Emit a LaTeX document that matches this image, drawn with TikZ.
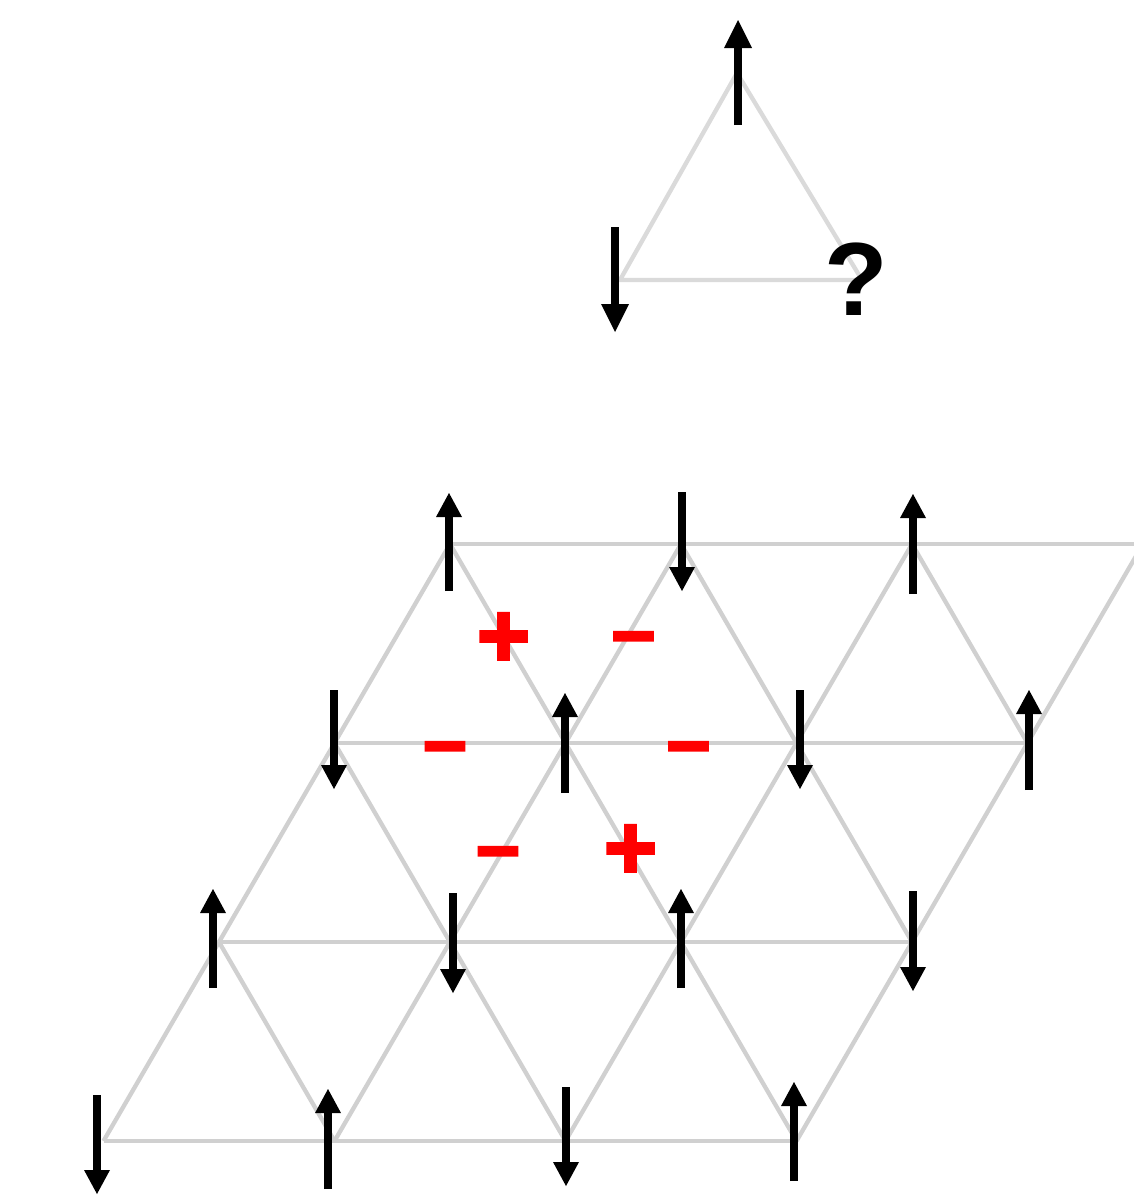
\documentclass[tikz,border=0pt]{standalone}
\usepackage{fontspec}
\usetikzlibrary{arrows.meta}
\newfontfamily\qfont{Liberation Sans Bold}
\newfontfamily\signfont{Liberation Sans Bold}[FakeBold=3]
\definecolor{latgray}{RGB}{208,208,208}
\definecolor{trigray}{RGB}{218,218,218}
\definecolor{signred}{RGB}{255,0,0}
\tikzset{
  bond/.style={draw=latgray, line width=4.3pt},
  tribond/.style={draw=trigray, line width=4.3pt},
  spin/.style={draw=black, line width=8.5pt,
    -{Triangle[width=26pt,length=24pt,line width=0pt]}},
  bigspin/.style={spin, -{Triangle[width=28pt,length=28pt,line width=0pt]}},
  plussign/.style={inner sep=0pt, text=signred, font=\signfont\fontsize{91}{91}\selectfont},
  minussign/.style={inner sep=0pt, text=signred, font=\signfont\fontsize{77}{77}\selectfont},
}
\begin{document}
\begin{tikzpicture}[x=1pt,y=-1pt]
\useasboundingbox (0,0) rectangle (1133,1197);
\fill[white] (0,0) rectangle (1133,1197);
% lattice vertices
\foreach \r in {0,...,3}{
  \foreach \i in {0,...,3}{
    \coordinate (v-\i-\r) at ({450-115.5*\r+231*\i},{544+199*\r});
  }
}
% bonds
\foreach \r in {0,...,3}{
  \foreach \i [evaluate=\i as \j using int(\i+1)] in {0,...,2}{
    \draw[bond] (v-\i-\r) -- (v-\j-\r);
  }
}
\foreach \r [evaluate=\r as \s using int(\r+1)] in {0,...,2}{
  \foreach \i in {0,...,3}{
    \draw[bond] (v-\i-\r) -- (v-\i-\s);
  }
  \foreach \i [evaluate=\i as \j using int(\i+1)] in {0,...,2}{
    \draw[bond] (v-\i-\r) -- (v-\j-\s);
  }
}
% top triangle
\coordinate (ta) at (737,73);
\coordinate (tl) at (620,280);
\coordinate (tr) at (862,280);
\draw[tribond] (tl) -- (ta) -- (tr) -- cycle;
\draw[bigspin] (738,125) -- (738,20);
\draw[bigspin] (615,227) -- (615,332);
\node[font=\qfont\fontsize{104}{104}\selectfont, inner sep=0pt, anchor=base] (q) at (856,315) {?};
% spins row 0
\draw[spin] (449,591) -- (449,493);
\draw[spin] (682,492) -- (682,591);
\draw[spin] (913,594) -- (913,494);
% row 1
\draw[spin] (334,690) -- (334,789);
\draw[spin] (565,793) -- (565,693);
\draw[spin] (800,690) -- (800,789);
\draw[spin] (1029,790) -- (1029,690);
% row 2
\draw[spin] (213,988) -- (213,889);
\draw[spin] (453,893) -- (453,993);
\draw[spin] (681,988) -- (681,889);
\draw[spin] (913,891) -- (913,991);
% row 3
\draw[spin] (97,1095) -- (97,1194);
\draw[spin] (328,1189) -- (328,1089);
\draw[spin] (566,1087) -- (566,1186);
\draw[spin] (794,1181) -- (794,1082);
% signs
\node[plussign] (p1) at (503.5,640) {+};
\node[plussign] (p2) at (630.5,852) {+};
\node[minussign] (m1) at (633.5,647) {−};
\node[minussign] (m2) at (445,757) {−};
\node[minussign] (m3) at (688.5,757) {−};
\node[minussign] (m4) at (498,862) {−};
\end{tikzpicture}
\end{document}
